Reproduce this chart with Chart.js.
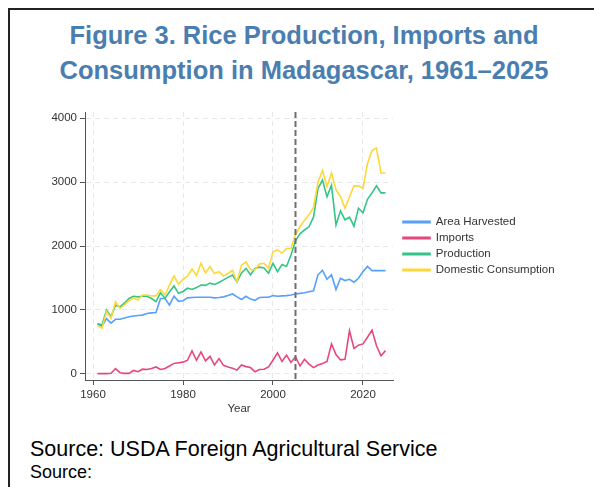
<!DOCTYPE html>
<html>
<head>
<meta charset="utf-8">
<script src="https://cdn.jsdelivr.net/npm/chart.js@4/dist/chart.umd.min.js"></script>
<style>
  html, body { margin: 0; padding: 0; background: #fff; }
  body { width: 594px; height: 487px; position: relative; overflow: hidden; font-family: 'Liberation Sans', Arial, sans-serif; }
  .frame { position: absolute; left: 8px; top: 8px; width: 700px; height: 600px; border-left: 2px solid #222; border-top: 2px solid #222; }
  .title { position: absolute; left: 0; width: 608px; text-align: center; font-weight: bold; font-size: 25.5px; line-height: 36px; color: #4a7eb0; white-space: nowrap; }
  .src { position: absolute; left: 30px; color: #000; white-space: nowrap; }
  #chart { position: absolute; left: 0; top: 100px; }
</style>
</head>
<body>
<div class="frame"></div>
<div class="title" style="top:17px">Figure 3. Rice Production, Imports and</div>
<div class="title" style="top:52px">Consumption in Madagascar, 1961–2025</div>
<canvas id="chart" width="594" height="320"></canvas>
<div class="src" style="top:437px; font-size:21.5px; line-height:24px">Source: USDA Foreign Agricultural Service</div>
<div class="src" style="top:462px; font-size:18px; line-height:20px">Source:</div>

<script>
// Rice in Madagascar, 1961-2025
const years = [];
for (let y = 1961; y <= 2025; y++) years.push(y);

const areaHarvested = [
  780, 745, 865, 795, 855, 855, 875, 895, 905, 915,
  920, 945, 955, 960, 1180, 1180, 1075, 1215, 1135, 1145,
  1190, 1195, 1200, 1200, 1200, 1200, 1190, 1195, 1205, 1225,
  1250, 1205, 1165, 1215, 1170, 1150, 1195, 1200, 1200, 1225,
  1215, 1220, 1225, 1235, 1250, 1260, 1270, 1285, 1300, 1550,
  1620, 1480, 1550, 1320, 1495, 1460, 1480, 1435, 1495, 1600,
  1680, 1615, 1615, 1615, 1615
];
const imports = [
  5, 5, 5, 10, 85, 20, 10, 10, 55, 35,
  75, 70, 85, 110, 70, 85, 125, 165, 175, 185,
  215, 360, 215, 345, 205, 275, 140, 240, 135, 110,
  90, 60, 140, 115, 100, 35, 70, 75, 110, 215,
  330, 195, 295, 180, 270, 125, 230, 155, 100, 140,
  165, 195, 470, 305, 220, 230, 675, 400, 450, 470,
  575, 685, 440, 285, 365
];
const production = [
  790, 765, 1000, 895, 1075, 1050, 1110, 1180, 1215, 1205,
  1215, 1215, 1180, 1130, 1270, 1180, 1285, 1375, 1260, 1290,
  1340, 1320, 1350, 1390, 1385, 1420, 1400, 1430, 1470, 1510,
  1545, 1440, 1580, 1650, 1550, 1650, 1670, 1655, 1575, 1730,
  1600, 1710, 1680, 1860, 2080, 2190, 2250, 2300, 2450, 2900,
  3030, 2770, 2950, 2330, 2550, 2410, 2450, 2310, 2590, 2520,
  2730, 2830, 2940, 2830, 2830
];
const consumption = [
  760, 715, 975, 870, 1130, 1025, 1080, 1145, 1190, 1155,
  1235, 1235, 1220, 1220, 1320, 1235, 1390, 1530, 1405, 1480,
  1530, 1640, 1540, 1730, 1580, 1680, 1570, 1600, 1530, 1570,
  1620, 1440, 1700, 1750, 1630, 1630, 1720, 1730, 1650, 1910,
  1940, 1890, 1960, 1960, 2180, 2300, 2400, 2490, 2600, 3000,
  3180, 2930, 3140, 2880, 2770, 2590, 2770, 2940, 2940, 2900,
  3290, 3490, 3530, 3140, 3140
];

const xTicks = [1960, 1980, 2000, 2020];
const yTicks = [0, 1000, 2000, 3000, 4000];
const markYear = 2005;

const seriesNames = ['Area Harvested', 'Imports', 'Production', 'Domestic Consumption'];
const seriesData = [areaHarvested, imports, production, consumption];
const seriesColors = ['#57a0fc', '#e6487c', '#33c588', '#fdd83a'];

const legendGap = 10;

// dashed vertical marker
const markLine = {
  id: 'markLine',
  afterDatasetsDraw(chart) {
    const { ctx, chartArea, scales } = chart;
    const x = scales.x.getPixelForValue(markYear);
    ctx.save();
    ctx.strokeStyle = '#6e6e6e';
    ctx.lineWidth = 2;
    ctx.setLineDash([6, 3]);
    ctx.beginPath();
    ctx.moveTo(x, chartArea.top);
    ctx.lineTo(x, chartArea.bottom);
    ctx.stroke();
    ctx.restore();
  }
};

// legend sits beside the plot region, a little away from it
const nudgeLegend = {
  id: 'nudgeLegend',
  afterLayout(chart) {
    const lg = chart.legend;
    const ca = chart.chartArea;
    lg.left = ca.right + legendGap - lg.options.labels.padding;
    lg.right = chart.width;
    lg.top = ca.top;
    lg.bottom = ca.bottom;
    lg.width = lg.right - lg.left;
    lg.height = lg.bottom - lg.top;
  }
};

Chart.defaults.font.family = "'Liberation Sans', Arial, sans-serif";
Chart.defaults.color = '#333';

new Chart(document.getElementById('chart'), {
  type: 'line',
  data: {
    datasets: seriesData.map((arr, i) => ({
      label: seriesNames[i],
      data: arr.map((v, j) => ({ x: years[j], y: v })),
      borderColor: seriesColors[i],
      backgroundColor: seriesColors[i],
      borderWidth: 1.6,
      pointRadius: 0,
      tension: 0,
      order: seriesData.length - i
    }))
  },
  options: {
    responsive: false,
    animation: false,
    layout: { padding: { top: 12, left: 0, right: 101, bottom: 0 } },
    plugins: {
      legend: {
        position: 'right',
        align: 'center',
        maxWidth: 100,
        labels: {
          boxWidth: 27, boxHeight: 1.6, padding: 4.5, font: { size: 11.5 }, color: '#333',
          sort: (a, b) => a.datasetIndex - b.datasetIndex
        }
      },
      tooltip: { enabled: false }
    },
    scales: {
      x: {
        type: 'linear',
        min: 1958.22,
        max: 2026.67,
        afterBuildTicks: s => { s.ticks = xTicks.map(v => ({ value: v })); },
        afterFit: s => { s.height = 40; },
        ticks: { font: { size: 11.5 }, padding: 3, maxRotation: 0, callback: v => String(v) },
        grid: { color: '#e8e8e8', tickColor: '#555', tickLength: 5 },
        border: { color: '#555', width: 1, dash: [5, 4] },
        title: { display: true, text: 'Year', font: { size: 11.5 }, padding: { top: 0, bottom: 4 }, color: '#333' }
      },
      y: {
        min: -94,
        max: 4094,
        afterBuildTicks: s => { s.ticks = yTicks.map(v => ({ value: v })); },
        afterFit: s => { s.width = 85; },
        ticks: { font: { size: 11.5 }, padding: 3, callback: v => String(v) },
        grid: { color: '#e8e8e8', tickColor: '#555', tickLength: 5 },
        border: { color: '#555', width: 1, dash: [5, 4] }
      }
    }
  },
  plugins: [markLine, nudgeLegend]
});
</script>
</body>
</html>
